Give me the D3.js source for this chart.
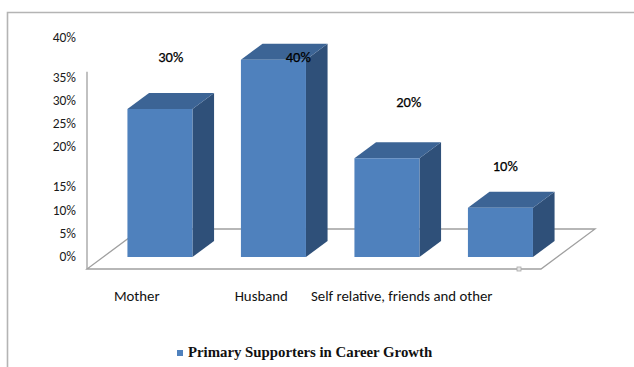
<!DOCTYPE html>
<html>
<head>
<meta charset="utf-8">
<script src="https://cdn.jsdelivr.net/npm/d3@7"></script>
<style>
  html, body { margin: 0; padding: 0; background: #fff; }
  svg { display: block; }
  .sans { font-family: Calibri, Carlito, Lato, "Liberation Sans", sans-serif; }
</style>
</head>
<body>
<svg id="chart" width="634" height="367"></svg>
<script>
// Series data
const categories = ["Mother", "Husband", "Self relative, friends and other", ""];
const values = [30, 40, 20, 10];
const valueLabels = ["30%", "40%", "20%", "10%"];
const tickValues = [0, 5, 10, 15, 20, 25, 30, 35, 40];
const tickLabels = ["0%", "5%", "10%", "15%", "20%", "25%", "30%", "35%", "40%"];
const seriesName = "Primary Supporters in Career Growth";

// Layout
const W = 634, H = 367;
const floorY = 269;          // front edge of the floor
const floorDepth = 40;       // vertical extent of the floor in projection
const slant = 1.35;          // horizontal shift per unit of depth
const barZ0 = 12, barZ1 = 28; // depth span of each bar
const colors = { front: "#4f81bd", top: "#3c6495", side: "#2f5079", grid: "#a0a0a0" };

const svg = d3.select("#chart");

const x = d3.scaleBand()
  .domain(categories)
  .range([87, 541])
  .paddingInner(0.427)
  .paddingOuter(0.2135);

const y = d3.scaleLinear().domain([0, 40]).range([floorY, floorY - 197.3]);

// oblique projection: plot x, value, depth -> screen
const proj = (px, v, z) => [px + z * slant, y(v) - z];

// outer frame
svg.append("path")
  .attr("d", `M7.5,${H}V12.5H${W}`)
  .attr("fill", "none")
  .attr("stroke", "#b4b4b4")
  .attr("stroke-width", 1.6);

// floor
const [x0, x1] = x.range();
const floorPts = [proj(x0, 0, 0), proj(x1, 0, 0), proj(x1, 0, floorDepth), proj(x0, 0, floorDepth)];
svg.append("polygon")
  .attr("points", floorPts.map(p => p.join(",")).join(" "))
  .attr("fill", "none")
  .attr("stroke", colors.grid)
  .attr("stroke-width", 1.3);

// side wall edge
svg.append("line")
  .attr("x1", x0).attr("y1", y(0))
  .attr("x2", x0).attr("y2", y(40))
  .attr("stroke", colors.grid)
  .attr("stroke-width", 1.3);

// handle on the floor edge
svg.append("rect")
  .attr("x", 517).attr("y", floorY - 2)
  .attr("width", 4).attr("height", 4)
  .attr("fill", "#e6e6e6")
  .attr("stroke", "#a8a8a8")
  .attr("stroke-width", 0.8);

// y tick labels (text box spacing)
const tickY = d3.scaleLinear().domain([0, 15, 20, 35, 40]).range([256, 186, 146, 77, 37]);
const axis = d3.axisLeft(tickY)
  .tickValues(tickValues)
  .tickFormat((d, i) => tickLabels[i])
  .tickSize(0)
  .tickPadding(0);
const gAxis = svg.append("g").attr("transform", "translate(76,0)").call(axis);
gAxis.select(".domain").remove();
gAxis.selectAll("text")
  .attr("class", "sans")
  .attr("font-size", 13.5)
  .attr("fill", "#1a1a1a")
  .attr("dy", "0.35em");

// bars
const bars = svg.append("g");
values.forEach((v, i) => {
  const c = categories[i];
  const bx0 = x(c), bx1 = x(c) + x.bandwidth();
  const g = bars.append("g");
  const poly = pts => pts.map(p => p.join(",")).join(" ");
  // right side
  g.append("polygon")
    .attr("points", poly([proj(bx1, 0, barZ0), proj(bx1, 0, barZ1), proj(bx1, v, barZ1), proj(bx1, v, barZ0)]))
    .attr("fill", colors.side);
  // top
  g.append("polygon")
    .attr("points", poly([proj(bx0, v, barZ0), proj(bx1, v, barZ0), proj(bx1, v, barZ1), proj(bx0, v, barZ1)]))
    .attr("fill", colors.top);
  // front
  g.append("polygon")
    .attr("points", poly([proj(bx0, 0, barZ0), proj(bx1, 0, barZ0), proj(bx1, v, barZ0), proj(bx0, v, barZ0)]))
    .attr("fill", colors.front);
});

// value labels, placed above each bar's top face
const valueLabelNudge = [[0, -44], [14, 5], [11, -48], [-6, -34]];
svg.append("g").selectAll("text")
  .data(values)
  .join("text")
  .attr("class", "sans")
  .attr("text-anchor", "middle")
  .attr("dy", "0.35em")
  .attr("font-size", 14.5)
  .attr("fill", "#000")
  .attr("stroke", "#000")
  .attr("stroke-width", 0.25)
  .attr("x", (v, i) => proj(x(categories[i]) + x.bandwidth() / 2, v, (barZ0 + barZ1) / 2)[0] + valueLabelNudge[i][0])
  .attr("y", (v, i) => proj(x(categories[i]) + x.bandwidth() / 2, v, (barZ0 + barZ1) / 2)[1] + valueLabelNudge[i][1])
  .text((v, i) => valueLabels[i]);

// category labels
const catShift = [-7, 4, 31, 0];
svg.append("g").selectAll("text")
  .data(categories)
  .join("text")
  .attr("class", "sans")
  .attr("text-anchor", "middle")
  .attr("dy", "0.35em")
  .attr("font-size", 14.8)
  .attr("fill", "#111")
  .attr("x", (c, i) => x(c) + x.bandwidth() / 2 + catShift[i])
  .attr("y", 296)
  .text(c => c);

// legend
const legend = svg.append("g").attr("transform", "translate(177,350)");
legend.append("rect")
  .attr("width", 6).attr("height", 6)
  .attr("fill", colors.front);
legend.append("text")
  .attr("x", 11).attr("y", 7)
  .attr("font-family", "'Times New Roman', 'Liberation Serif', serif")
  .attr("font-weight", "bold")
  .attr("font-size", 14.8)
  .attr("fill", "#111")
  .text(seriesName);
</script>
</body>
</html>
